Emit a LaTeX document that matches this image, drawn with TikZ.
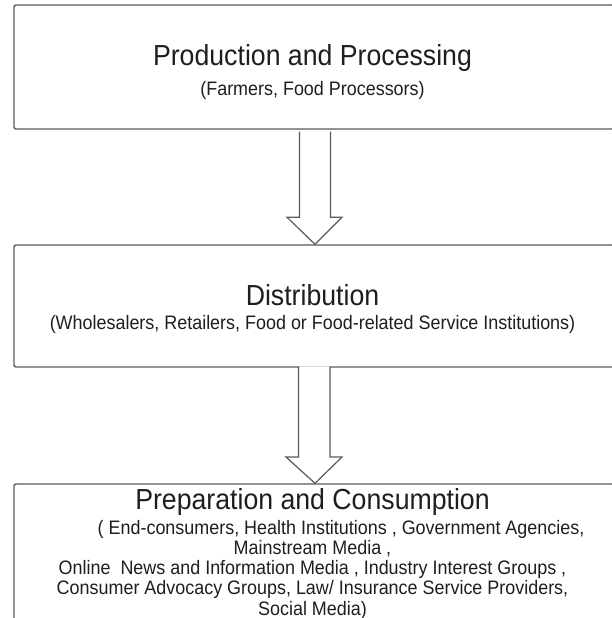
\documentclass[tikz,border=0pt]{standalone}
\usepackage{fontspec}
\setmainfont{Liberation Sans}[FakeStretch=0.92]
\usetikzlibrary{positioning, calc}
\definecolor{boxline}{HTML}{5A5A5A}
\definecolor{inktext}{HTML}{1E1E1E}
\tikzset{
  stage/.style={rectangle, draw=boxline, line width=1.4pt, rounded corners=2pt,
                minimum width=600pt},
  heading/.style={anchor=base, text=inktext, inner sep=0pt,
                  font=\fontsize{29}{30}\selectfont},
  members/.style={anchor=base, text=inktext, inner sep=0pt, align=center,
                  font=\fontsize{19.5}{20.2}\selectfont},
  flowarrow/.style={draw=boxline, line width=1.2pt, fill=white, line join=miter}
}

\begin{document}
\begin{tikzpicture}[x=1pt, y=1pt]
  \useasboundingbox (0,0) rectangle (612,-618);

  % Stages
  \node[stage, minimum height=124pt] (prod) at (314,-67) {};
  \node[stage, minimum height=122pt] (dist) at (314,-306) {};
  \node[stage, minimum height=156pt] (prep) at (314,-562) {};

  % Production
  \node[heading] (prodtitle) at (312.5,-66) {Production and Processing};
  \node[members] (prodsub) at (312.5,-95) {(Farmers, Food Processors)};

  % Distribution
  \node[heading] (disttitle) at (312.5,-305) {Distribution};
  \node[members] (distsub) at (312.5,-329)
    {(Wholesalers, Retailers, Food or Food-related Service Institutions)};

  % Preparation
  \node[heading] (preptitle) at (312.5,-509) {Preparation and Consumption};
  \node[members, anchor=north] (prepsub) at (312.5,-520)
    {\hspace*{57pt}( End-consumers, Health Institutions , Government Agencies,\\
     Mainstream Media ,\\
     Online\ \ News and Information Media , Industry Interest Groups ,\\
     Consumer Advocacy Groups, Law/ Insurance Service Providers,\\
     Social Media)};

  % Block arrows
  \draw[flowarrow] ($(prod.south)+(-14.5,-2)$) -- ++(0,-85.5) -- ++(-12.5,0)
    -- ($(dist.north)+(1,0)$) -- ($(prod.south)+(28,-87.5)$) -- ++(-11.5,0)
    -- ++(0,85.5);
  \draw[flowarrow] ($(dist.south)+(-15.5,1.4)$) -- ++(0,-90.7) -- ++(-12.5,0)
    -- ($(prep.north)+(1,0)$) -- ($(dist.south)+(28,-89.3)$) -- ++(-12,0)
    -- ++(0,90.7);
\end{tikzpicture}
\end{document}
